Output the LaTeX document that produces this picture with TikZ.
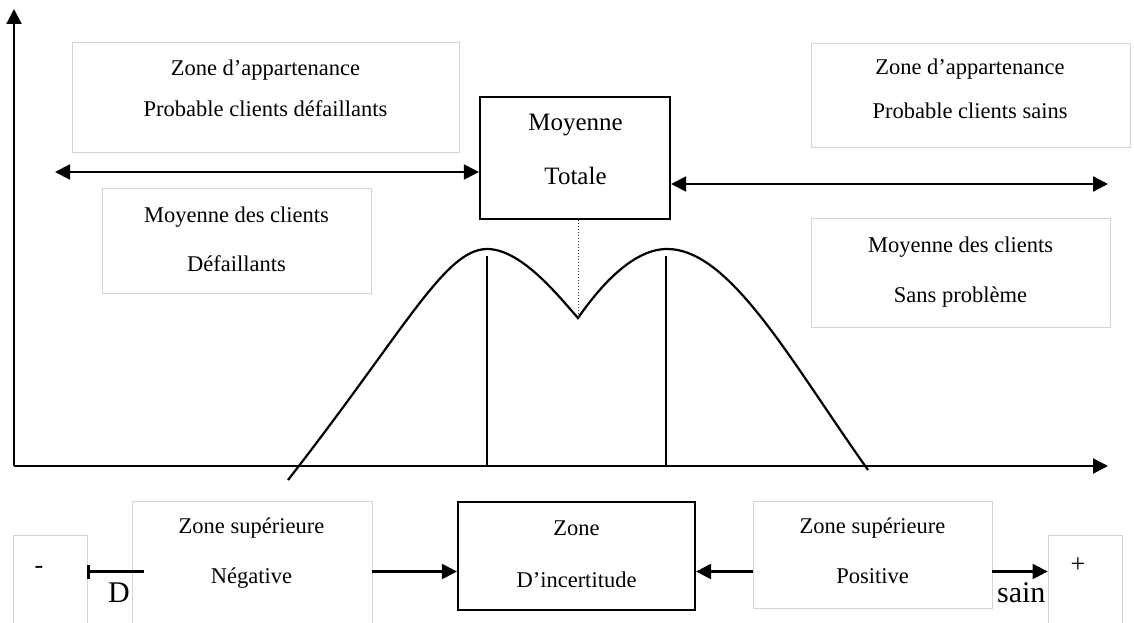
\documentclass[tikz,border=0pt]{standalone}
\usepackage{fontspec}
\setmainfont{Liberation Serif}
\usetikzlibrary{arrows.meta}

\begin{document}
\begin{tikzpicture}[x=1pt,y=-1pt,line width=2.2pt,
  lightbox/.style={draw=black!17,line width=0.8pt,fill=white,inner sep=0pt},
  darkbox/.style={draw=black,line width=2.2pt,fill=white,inner sep=0pt},
  txt/.style={anchor=base,inner sep=0pt,font=\fontsize{22.5}{27}\selectfont},
  bigtxt/.style={anchor=base,inner sep=0pt,font=\fontsize{25}{30}\selectfont},
  marktxt/.style={anchor=base,inner sep=0pt,font=\fontsize{30}{36}\selectfont},
  signtxt/.style={anchor=base,inner sep=0pt,font=\fontsize{26}{30}\selectfont},
  tip/.style={-{Triangle[length=15pt,width=15pt]}},
  dbl/.style={{Triangle[length=15pt,width=15pt]}-{Triangle[length=15pt,width=15pt]}},
  bartip/.style={-{Bar[width=14pt,line width=2.6pt]}}]

\useasboundingbox (0,0) rectangle (1134,623);
\fill[white] (0,0) rectangle (1134,623);
\clip (0,0) rectangle (1134,623);

% axes
\coordinate (O) at (14,466);
\coordinate (ytop) at (14,9);
\coordinate (xend) at (1108,466);
\draw[tip] (O) -- (ytop);
\draw[tip] (O) -- (xend);

% upper boxes
\node[lightbox,minimum width=387pt,minimum height=110pt] (bA) at (265.5,97) {};
\node[lightbox,minimum width=269pt,minimum height=105pt] (bB) at (236.5,240.5) {};
\node[darkbox,minimum width=190pt,minimum height=122pt] (bM) at (575,158) {};
\node[lightbox,minimum width=319pt,minimum height=104pt] (bC) at (970.5,95) {};
\node[lightbox,minimum width=299pt,minimum height=109pt] (bD) at (960.5,272.5) {};

\node[txt] (tA1) at (265.5,76) {Zone d’appartenance};
\node[txt] (tA2) at (265.5,117) {Probable clients défaillants};
\node[txt] (tB1) at (236.5,222) {Moyenne des clients};
\node[txt] (tB2) at (236.5,271) {Défaillants};
\node[bigtxt] (tM1) at (575.5,131) {Moyenne};
\node[bigtxt] (tM2) at (575.5,184) {Totale};
\node[txt] (tC1) at (970,75) {Zone d’appartenance};
\node[txt] (tC2) at (970,118) {Probable clients sains};
\node[txt] (tD1) at (960.5,252) {Moyenne des clients};
\node[txt] (tD2) at (960.5,302) {Sans problème};

% membership arrows
\coordinate (la) at (55,172);
\coordinate (ra) at (1108,184);
\draw[dbl] (la) -- (la -| bM.west);
\draw[dbl] (ra -| bM.east) -- (ra);

% two-humped distribution
\coordinate (c0) at (288,480);
\coordinate (pk1) at (487,249);
\coordinate (dip) at (578,318);
\coordinate (pk2) at (667,249);
\coordinate (c1) at (868,470);
\draw (c0) .. controls (405,330) and (445,249) .. (pk1)
           .. controls (522,249) and (560,298) .. (dip)
           .. controls (592,298) and (628,249) .. (pk2)
           .. controls (730,249) and (790,360) .. (c1);
\coordinate (v1) at (487,256);
\coordinate (v2) at (666,256);
\draw (v1) -- (v1 |- O);
\draw (v2) -- (v2 |- O);
\draw[dotted,line width=1pt,black!75] (dip |- bM.south) -- (dip);

% lower boxes
\node[lightbox,minimum width=74pt,minimum height=105pt] (bMinus) at (50,587.5) {};
\node[lightbox,minimum width=240pt,minimum height=139pt] (bN) at (252,570.5) {};
\node[darkbox,minimum width=237pt,minimum height=108pt] (bI) at (576.5,556) {};
\node[lightbox,minimum width=239pt,minimum height=107pt] (bP) at (872.5,554.5) {};

\node[txt] (tN1) at (251.5,533) {Zone supérieure};
\node[txt] (tN2) at (251.5,583) {Négative};
\node[txt] (tI1) at (576.5,535) {Zone};
\node[txt] (tI2) at (576.5,587) {D’incertitude};
\node[txt] (tP1) at (872.5,533) {Zone supérieure};
\node[txt] (tP2) at (872.5,583) {Positive};

\node[marktxt] (tD) at (119,602) {D};
\node[marktxt,anchor=base west] (tS) at (996,602) {sain};
\node[lightbox,minimum width=74pt,minimum height=105pt] (bPlus) at (1085,587.5) {};
\node[signtxt] (tMinus) at (39,573) {-};
\node[signtxt] (tPlus) at (1078,572) {+};

% decision arrows
\coordinate (row) at (0,571.5);
\coordinate (s1) at (144,571.5);
\draw[bartip] (s1) -- (s1 -| bMinus.east);
\draw[tip] (bN.east |- row) -- (bI.west |- row);
\draw[tip] (bP.west |- row) -- (bI.east |- row);
\draw[tip] (bP.east |- row) -- (bPlus.west |- row);
\end{tikzpicture}
\end{document}
